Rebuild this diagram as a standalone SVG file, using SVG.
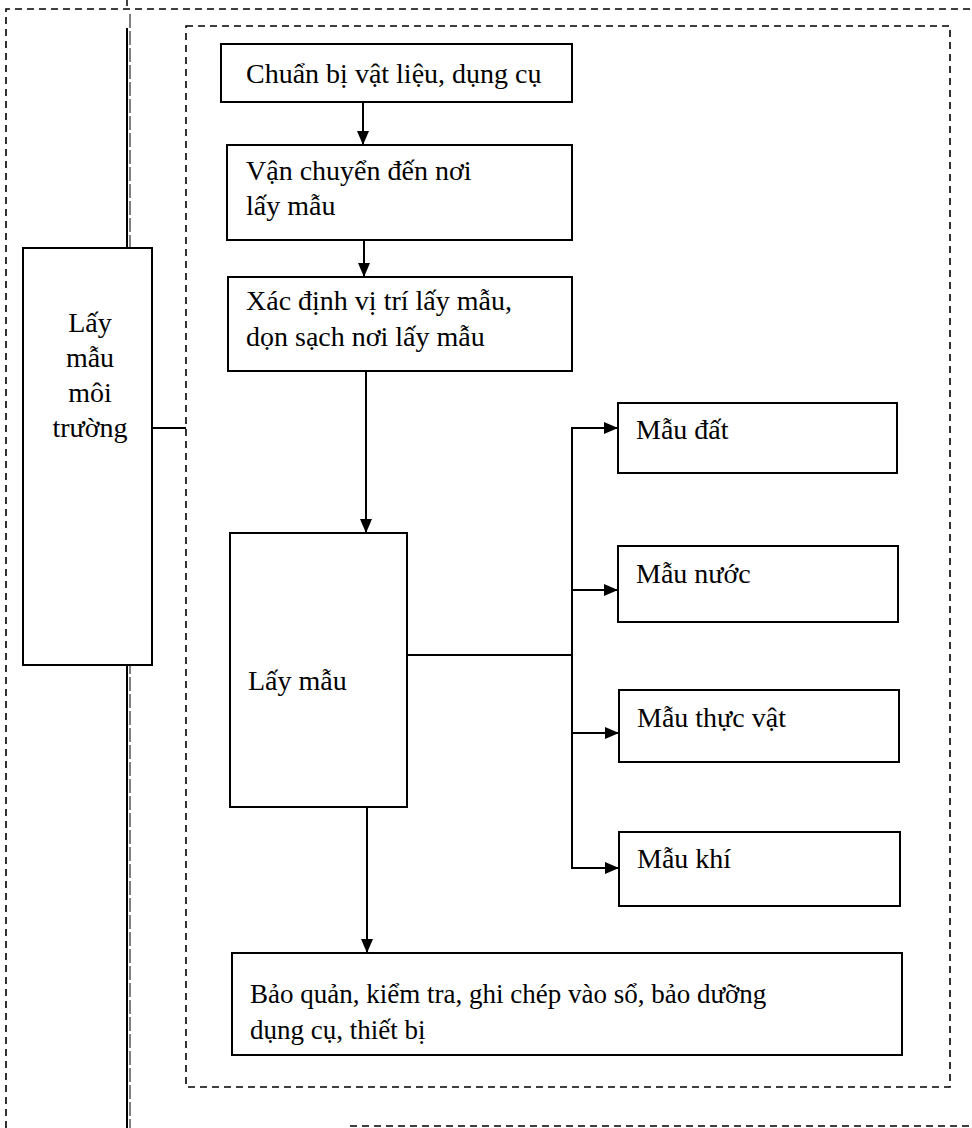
<svg xmlns="http://www.w3.org/2000/svg" width="972" height="1128" viewBox="0 0 972 1128">
<defs>
<marker id="ah" markerWidth="14" markerHeight="12" refX="14" refY="6" orient="auto" markerUnits="userSpaceOnUse">
<path d="M0,0 L14,6 L0,12 Z" fill="#000"/>
</marker>
<style>
.box{fill:#fff;stroke:#000;stroke-width:2}
.dash{fill:none;stroke:#000;stroke-width:1.6;stroke-dasharray:7,5}
.t{font-family:"Liberation Serif","Times New Roman",serif;font-size:28px;fill:#000}
.s{font-size:27px}
.c{fill:none;stroke:#000;stroke-width:2}
</style>
</defs>
<rect width="972" height="1128" fill="#fff"/>
<g id="frame">
<path class="dash" d="M6,1128 L6,9 L972,9" stroke-dasharray="6,4"/>
<path class="dash" d="M350,1126 L972,1126"/>
<line x1="127" y1="0" x2="127" y2="6" stroke="#000" stroke-width="1.5"/>
<line x1="127" y1="28" x2="127" y2="1128" stroke="#000" stroke-width="2"/>
<line x1="130" y1="14" x2="130" y2="1128" stroke="#000" stroke-width="1" stroke-dasharray="14,3"/>
<rect class="dash" x="186" y="26" width="764" height="1061"/>
</g>
<g id="connectors">
<line class="c" x1="152" y1="428" x2="186" y2="428"/>
<line class="c" x1="363" y1="102" x2="363" y2="145" marker-end="url(#ah)"/>
<line class="c" x1="364" y1="240" x2="364" y2="277" marker-end="url(#ah)"/>
<line class="c" x1="366" y1="371" x2="366" y2="533" marker-end="url(#ah)"/>
<line class="c" x1="407" y1="655" x2="572" y2="655"/>
<line class="c" x1="572" y1="428" x2="572" y2="868"/>
<line class="c" x1="571" y1="428" x2="618" y2="428" marker-end="url(#ah)"/>
<line class="c" x1="571" y1="590" x2="618" y2="590" marker-end="url(#ah)"/>
<line class="c" x1="571" y1="733" x2="619" y2="733" marker-end="url(#ah)"/>
<line class="c" x1="571" y1="868" x2="619" y2="868" marker-end="url(#ah)"/>
<line class="c" x1="367" y1="807" x2="367" y2="953" marker-end="url(#ah)"/>
</g>
<g id="n-env">
<rect class="box" x="23" y="248" width="129" height="417"/>
<text class="t" x="90" y="332" text-anchor="middle">Lấy</text>
<text class="t" x="90" y="367" text-anchor="middle">mẫu</text>
<text class="t" x="90" y="402" text-anchor="middle">môi</text>
<text class="t" x="90" y="437" text-anchor="middle">trường</text>
</g>
<g id="n-prep">
<rect class="box" x="221" y="44" width="351" height="58"/>
<text class="t" x="246" y="83">Chuẩn bị vật liệu, dụng cụ</text>
</g>
<g id="n-transport">
<rect class="box" x="227" y="145" width="345" height="95"/>
<text class="t" x="246" y="180">Vận chuyển đến nơi</text>
<text class="t" x="246" y="215">lấy mẫu</text>
</g>
<g id="n-locate">
<rect class="box" x="228" y="277" width="344" height="94"/>
<text class="t" x="246" y="310">Xác định vị trí lấy mẫu,</text>
<text class="t" x="246" y="346">dọn sạch nơi lấy mẫu</text>
</g>
<g id="n-sample">
<rect class="box" x="230" y="533" width="177" height="274"/>
<text class="t" x="248" y="690">Lấy mẫu</text>
</g>
<g id="n-soil">
<rect class="box" x="618" y="403" width="279" height="70"/>
<text class="t" x="636" y="439">Mẫu đất</text>
</g>
<g id="n-water">
<rect class="box" x="618" y="546" width="280" height="76"/>
<text class="t" x="636" y="583">Mẫu nước</text>
</g>
<g id="n-plant">
<rect class="box" x="619" y="690" width="280" height="72"/>
<text class="t" x="637" y="727">Mẫu thực vật</text>
</g>
<g id="n-air">
<rect class="box" x="619" y="832" width="281" height="74"/>
<text class="t" x="637" y="868">Mẫu khí</text>
</g>
<g id="n-store">
<rect class="box" x="232" y="953" width="670" height="102"/>
<text class="t s" x="250" y="1003">Bảo quản, kiểm tra, ghi chép vào sổ, bảo dưỡng</text>
<text class="t s" x="250" y="1039">dụng cụ, thiết bị</text>
</g>
</svg>
